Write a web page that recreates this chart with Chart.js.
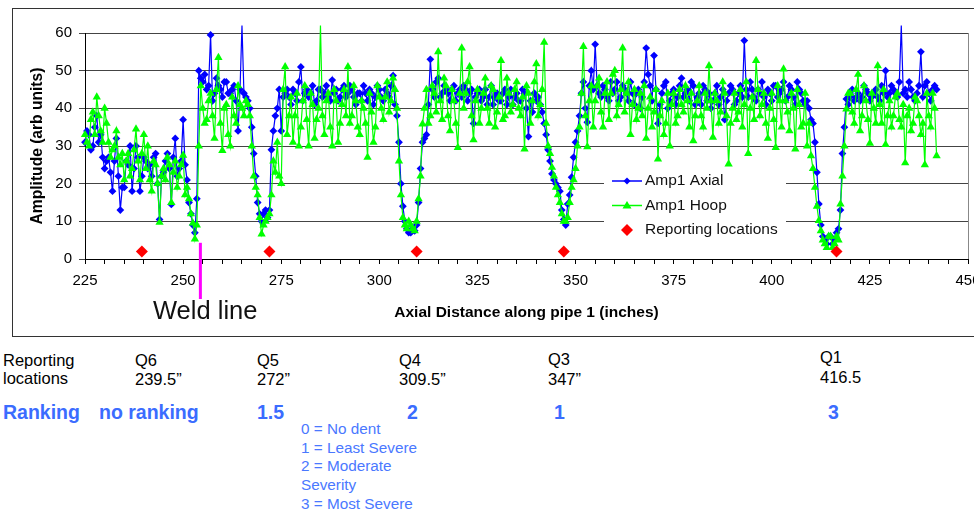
<!DOCTYPE html>
<html>
<head>
<meta charset="utf-8">
<script src="https://cdn.jsdelivr.net/npm/chart.js@4.4.1/dist/chart.umd.min.js"></script>
<style>
    html, body { margin: 0; padding: 0; width: 974px; height: 513px; overflow: hidden; background: #fff; }
    body { position: relative; font-family: Arial, "Liberation Sans", sans-serif; color: #000; }
    #frame { position: absolute; left: 12px; top: 8px; width: 990px; height: 329px; border: 1.5px solid #333; box-sizing: border-box; }
    #chart { position: absolute; left: 0; top: 0; }
    .t { position: absolute; white-space: nowrap; line-height: 1; }
    .q { font-size: 16.5px; }
    .rank { font-size: 19.5px; font-weight: bold; color: #3b6cff; }
    .key { font-size: 15.3px; color: #4a78ff; }
</style>
</head>
<body>
<div id="frame"></div>
<canvas id="chart" width="990" height="340"></canvas>

<div class="t" style="left:153px; top:298px; font-size:25.5px; color:#111;">Weld line</div>

<div class="t q" style="left:3px; top:352px;">Reporting</div>
<div class="t q" style="left:3px; top:370px;">locations</div>
<div class="t q" style="left:135px; top:352px;">Q6</div>
<div class="t q" style="left:135px; top:371px;">239.5”</div>
<div class="t q" style="left:257px; top:352px;">Q5</div>
<div class="t q" style="left:257px; top:371px;">272”</div>
<div class="t q" style="left:399px; top:352px;">Q4</div>
<div class="t q" style="left:399px; top:371px;">309.5”</div>
<div class="t q" style="left:548px; top:351px;">Q3</div>
<div class="t q" style="left:548px; top:371px;">347”</div>
<div class="t q" style="left:820px; top:349px;">Q1</div>
<div class="t q" style="left:820px; top:369px;">416.5</div>

<div class="t rank" style="left:3px; top:403px;">Ranking</div>
<div class="t rank" style="left:99px; top:403px;">no ranking</div>
<div class="t rank" style="left:257px; top:403px;">1.5</div>
<div class="t rank" style="left:407px; top:403px;">2</div>
<div class="t rank" style="left:554px; top:403px;">1</div>
<div class="t rank" style="left:828px; top:403px;">3</div>

<div class="t key" style="left:301px; top:421px;">0 = No dent</div>
<div class="t key" style="left:301px; top:440px;">1 = Least Severe</div>
<div class="t key" style="left:301px; top:458px;">2 = Moderate</div>
<div class="t key" style="left:301px; top:477px;">Severity</div>
<div class="t key" style="left:301px; top:496px;">3 = Most Severe</div>

<script>
// readings on whole inches from 225", plus the in-between readings at the half inch
const startInch = 225;

const amp1Axial = [
    31, 33, 30, 38, 33, 24, 27, 18, 32, 13,
    19, 25, 18, 30, 18, 27, 24, 22, 28, 10.5,
    23, 28, 14.5, 32, 24, 37, 21, 12, 7, 50,
    47, 45, 59.5, 44, 46, 43, 47, 44, 46, 34,
    62, 43, 40, 28, 15, 10, 13, 13, 34, 40,
    34, 44, 43, 45, 42, 51, 44, 43, 46, 42,
    45, 44, 43, 47.5, 45, 43, 46, 44, 45, 41,
    44, 46, 42, 44, 43, 45, 42, 44, 46, 41,
    31, 14, 8, 7, 7.5, 15, 31, 33, 53, 43,
    48, 44, 45, 42, 46, 44, 43, 45, 44, 36,
    44, 42, 45, 43, 41, 44, 42, 45, 43, 41,
    44, 42, 44, 32.5, 39, 42, 41, 36, 29, 22.6,
    20, 18, 10.5, 14.6, 21.7, 31, 38, 47, 36.3, 50,
    57, 44, 46, 43, 47, 45, 42, 46, 44, 47,
    41, 45, 43, 56, 46, 54, 36, 44, 47, 42,
    45, 43, 48, 44, 42, 46, 43, 41, 45, 44,
    42, 46, 43, 37, 44, 45, 42, 46, 58, 43,
    45, 42, 44, 43, 45, 42, 46, 44, 47, 43,
    45, 41, 45, 42, 42, 37, 31, 14.6, 6, 4,
    6, 5, 8, 28, 42.5, 43, 42, 44, 43, 45,
    42, 44, 43, 46, 50, 44, 45, 43, 62, 45,
    47, 43, 44, 55, 46, 44, 45, 45
];

const amp1AxialHalf = [
    34, 29, 35, 31, 27, 26, 23, 26, 22, 19,
    26, 30, 24, 27, 22, 26, 25, 27, 20, 22,
    26, 24, 27, 22, 26, 25, 15, 9, 16, 48,
    49, 46, 42, 48, 45, 47, 44, 45, 42, 45,
    44, 42, 35, 22, 12, 12, 11, 29, 38, 45,
    43, 45, 41, 44, 47, 42, 45, 44, 41, 45,
    43, 46, 42, 44, 42, 45, 43, 46, 43, 44,
    42, 44, 45, 41, 46, 43, 45, 43, 48.7, 38,
    20, 10, 7, 8, 9, 24, 32, 41, 45, 47,
    43, 46, 44, 45, 42, 45, 46, 42, 45, 43,
    45, 43, 41, 46, 43, 42, 44, 41, 45, 43,
    42, 45, 40, 42, 44, 43, 39, 33, 26, 21,
    19, 13, 9, 17, 27, 34, 44, 40, 46, 45,
    46, 43, 45, 42, 44, 47, 43, 45, 42, 44,
    44, 40, 47, 49, 42, 45, 41, 46, 40, 44,
    41, 46, 43, 45, 47, 41, 44, 46, 42, 40,
    44, 41, 45, 42, 46, 41, 44, 43, 45, 47,
    43, 45, 47, 41, 44, 46, 43, 45, 42, 46,
    43, 47, 44, 41, 40, 36, 23, 9, 5, 6,
    4, 7, 13, 35, 41, 45, 43, 42, 46, 44,
    43, 45, 42, 44, 43, 46, 44, 47, 44, 43,
    45, 42, 46, 43, 47, 42, 46
];

const amp1Hoop = [
    33, 30, 39, 43, 34, 40, 31, 29, 34, 25,
    21, 28, 24, 34.5, 21, 33, 30, 18, 25, 9.7,
    24, 27, 15, 26, 22, 27.5, 19, 12, 5.3, 30,
    40, 37, 44, 32, 53.5, 28.8, 41, 30, 38, 46,
    40, 42, 38, 22, 17, 6.6, 10, 12, 26, 31,
    20, 51, 38, 31, 44, 35, 46, 30, 41, 37,
    62, 33, 44, 30, 42, 36, 45, 51, 38, 42,
    33, 40, 27, 39, 35, 43, 37, 47, 42, 45,
    26, 11, 8, 9, 7.5, 16, 35.8, 45, 38, 44,
    55, 37, 46, 34, 42, 29.6, 56, 44, 51, 31.6,
    45, 40, 48, 36, 45, 39, 52.7, 38, 44, 41,
    47, 38, 29.2, 44, 42, 51.8, 41, 57.5, 30, 24.3,
    19, 15, 10, 11, 19, 24, 35, 56.4, 29.8, 46,
    42, 48, 35, 47, 44, 50, 41, 56, 44, 33,
    45, 40, 38, 32, 43, 39, 26.5, 42, 36, 30,
    44, 38, 41, 46, 35, 31.4, 42, 38, 44, 51.3,
    32.3, 42, 39, 44, 25.2, 40, 37, 45, 41, 28,
    43, 52.7, 38, 44, 32, 44, 29.6, 42, 50.4, 39,
    44, 29.2, 41, 36, 30, 27.4, 19, 10.2, 5, 3,
    6, 4, 5, 22, 39.8, 44, 36, 49, 38, 42,
    30.7, 40, 51.3, 36, 30.4, 42, 38, 44, 35, 25.5,
    40, 36, 42, 33, 25, 38, 44, 27.4
];

const amp1HoopHalf = [
    31, 37, 33, 38, 31, 36, 27, 30, 27, 28,
    26, 22, 29, 26, 28, 24, 21, 26, 20, 22,
    21, 25, 23, 19, 25, 17, 16, 9.5, 9, 46,
    36, 42, 38, 45, 36, 40, 33, 43, 36, 41,
    38, 41, 30, 19, 11, 9, 11, 17, 23, 22,
    45, 33, 43, 38, 30, 42, 37, 44, 32, 40,
    38, 42, 35, 45, 31, 41, 38, 36, 46, 35,
    42, 36, 44, 31, 46, 40, 43, 39, 48, 40,
    17, 9, 10, 8, 10, 22, 40, 36, 46, 39,
    42, 48, 38, 45, 36, 44, 40, 47, 38, 42,
    36, 44, 40, 46, 35, 43, 37, 48, 39, 45,
    40, 43, 46, 36, 47, 38, 45, 36, 28, 22,
    17, 12, 10, 15, 21, 30, 44, 38, 42, 35,
    46, 39, 44, 37, 49, 38, 45, 39, 47, 41,
    37, 44, 46, 40, 35, 45, 38, 33, 44, 41,
    36, 45, 39, 42, 44, 38, 46, 35, 40, 42,
    44, 36, 47, 38, 36, 44, 39, 35, 47, 40,
    37, 45, 41, 36, 40, 37, 46, 35, 42, 34,
    40, 45, 35, 44, 36, 24, 14, 7.5, 4, 6,
    3, 6, 14.6, 30, 44, 39, 45, 34, 46, 37,
    44, 36, 41, 45, 38, 35, 43, 37, 41, 38,
    34, 43, 38, 36, 44, 35, 40
];

const reportingPos = [239.5, 272, 309.5, 347, 416.5];
const reportingLevel = [2, 2, 2, 2, 2];

const weldPos = 254.4;
const weldTop = 4.3;

const xTicks = [225, 250, 275, 300, 325, 350, 375, 400, 425, 450];
const yTicks = [0, 10, 20, 30, 40, 50, 60];

const BLUE = '#0000ff';
const GREEN = '#00ff00';
const RED = '#ff0000';
const FONT = 'Arial, "Liberation Sans", sans-serif';

// interleave whole-inch and half-inch readings
function toPoints(whole, half) {
    const pts = [];
    whole.forEach((v, i) => {
        pts.push({ x: startInch + i, y: v });
        if (i < half.length) pts.push({ x: startInch + i + 0.5, y: half[i] });
    });
    return pts;
}

// weld marker, plot frame on the right and the boxed legend
const extras = {
    id: 'extras',
    afterDraw(chart) {
        const { ctx, chartArea, scales } = chart;
        ctx.save();

        ctx.strokeStyle = '#888';
        ctx.lineWidth = 1;
        ctx.beginPath();
        ctx.moveTo(chartArea.right + 0.5, chartArea.top);
        ctx.lineTo(chartArea.right + 0.5, chartArea.bottom);
        ctx.stroke();

        const wx = scales.x.getPixelForValue(weldPos);
        ctx.strokeStyle = '#ff00ff';
        ctx.lineWidth = 3;
        ctx.beginPath();
        ctx.moveTo(wx, scales.y.getPixelForValue(weldTop));
        ctx.lineTo(wx, chartArea.bottom + 40);
        ctx.stroke();

        // legend
        const lx = 604, ly = 168;
        ctx.fillStyle = '#fff';
        ctx.fillRect(lx, ly, 182, 78);
        ctx.font = '15.5px ' + FONT;
        ctx.textBaseline = 'middle';
        const rows = [
            { label: 'Amp1 Axial', color: BLUE, shape: 'diamond', line: true },
            { label: 'Amp1 Hoop', color: GREEN, shape: 'triangle', line: true },
            { label: 'Reporting locations', color: RED, shape: 'bigdiamond', line: false },
        ];
        rows.forEach((r, i) => {
            const y = ly + 13 + i * 24.5;
            const cx = lx + 23;
            if (r.line) {
                ctx.strokeStyle = r.color;
                ctx.lineWidth = 1.5;
                ctx.beginPath();
                ctx.moveTo(lx + 8, y);
                ctx.lineTo(lx + 38, y);
                ctx.stroke();
            }
            ctx.fillStyle = r.color;
            ctx.beginPath();
            if (r.shape === 'triangle') {
                ctx.moveTo(cx, y - 4.5);
                ctx.lineTo(cx + 4.5, y + 3);
                ctx.lineTo(cx - 4.5, y + 3);
            } else {
                const s = r.shape === 'diamond' ? 3.5 : 6;
                ctx.moveTo(cx, y - s);
                ctx.lineTo(cx + s, y);
                ctx.lineTo(cx, y + s);
                ctx.lineTo(cx - s, y);
            }
            ctx.closePath();
            ctx.fill();
            ctx.fillStyle = '#111';
            ctx.fillText(r.label, lx + 41, y);
        });

        ctx.restore();
    }
};

new Chart(document.getElementById('chart'), {
    type: 'line',
    data: {
        datasets: [
            {
                label: 'Reporting locations',
                data: reportingPos.map((x, i) => ({ x, y: reportingLevel[i] })),
                showLine: false,
                pointStyle: 'rectRot',
                pointRadius: 6,
                pointBackgroundColor: RED,
                pointBorderWidth: 0,
                borderColor: RED,
                order: 0,
            },
            {
                label: 'Amp1 Hoop',
                data: toPoints(amp1Hoop, amp1HoopHalf),
                borderColor: GREEN,
                backgroundColor: GREEN,
                borderWidth: 1.2,
                pointStyle: 'triangle',
                pointRadius: 4.8,
                pointBackgroundColor: GREEN,
                pointBorderWidth: 0,
                tension: 0,
                clip: false,
                order: 1,
            },
            {
                label: 'Amp1 Axial',
                data: toPoints(amp1Axial, amp1AxialHalf),
                borderColor: BLUE,
                backgroundColor: BLUE,
                borderWidth: 1.2,
                pointStyle: 'rectRot',
                pointRadius: 3.9,
                pointBackgroundColor: BLUE,
                pointBorderWidth: 0,
                tension: 0,
                clip: false,
                order: 2,
            },
        ]
    },
    options: {
        responsive: false,
        animation: false,
        events: [],
        layout: { padding: { left: 0, top: 33, right: 22, bottom: 0 } },
        scales: {
            x: {
                type: 'linear',
                min: 225,
                max: 450,
                afterFit: s => { s.height = 81; },
                afterBuildTicks: s => {
                    const t = [];
                    for (let v = 225; v <= 450; v += 5) t.push({ value: v });
                    s.ticks = t;
                },
                ticks: {
                    autoSkip: false,
                    maxRotation: 0,
                    padding: 8,
                    color: '#000',
                    font: { family: FONT, size: 15 },
                    callback: v => xTicks.includes(v) ? String(v) : '',
                },
                grid: { drawOnChartArea: false, drawTicks: true, tickLength: 5, color: '#000' },
                border: { color: '#000', width: 1 },
                title: {
                    display: true,
                    text: 'Axial Distance along pipe 1 (inches)',
                    color: '#000',
                    font: { family: FONT, size: 15.5, weight: 'bold' },
                    padding: { top: 0, bottom: 18 },
                },
            },
            y: {
                min: 0,
                max: 60,
                afterFit: s => { s.width = 85; },
                afterBuildTicks: s => { s.ticks = yTicks.map(v => ({ value: v })); },
                ticks: {
                    padding: 7,
                    color: '#000',
                    font: { family: FONT, size: 15 },
                },
                grid: { color: '#444', lineWidth: 1, tickLength: 6 },
                border: { color: '#000', width: 1 },
                title: {
                    display: true,
                    text: 'Amplitude (arb units)',
                    color: '#000',
                    font: { family: FONT, size: 15.6, weight: 'bold' },
                    padding: { top: 28, bottom: 0 },
                },
            },
        },
        plugins: {
            legend: { display: false },
            tooltip: { enabled: false },
        },
    },
    plugins: [extras],
});
</script>
</body>
</html>
